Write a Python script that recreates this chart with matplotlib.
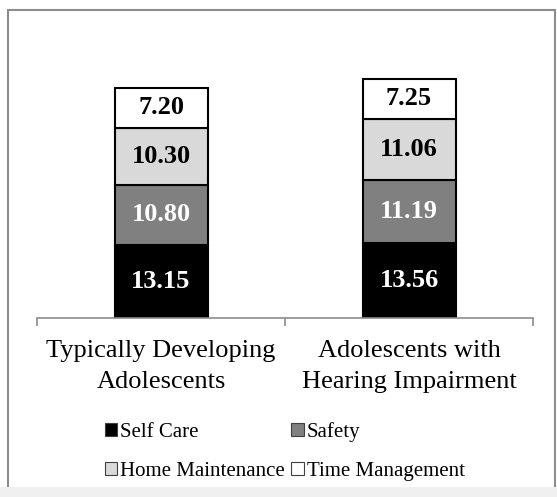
import numpy as np
import matplotlib.pyplot as plt
from matplotlib.patches import Rectangle, Patch

plt.rcParams['font.family'] = ['Liberation Serif', 'DejaVu Serif']

# Data
groups = ['Typically Developing\nAdolescents', 'Adolescents with\nHearing Impairment']
series = ['Self Care', 'Safety', 'Home Maintenance', 'Time Management']
self_care = [13.15, 13.56]
safety = [10.80, 11.19]
home_maint = [10.30, 11.06]
time_mgmt = [7.20, 7.25]

colors = ['#000000', '#808080', '#d9d9d9', '#ffffff']
text_colors = ['white', 'white', 'black', 'black']

fig = plt.figure(figsize=(5.57, 4.97), dpi=100)

# outer frame like the original chart box
fig.patches.append(Rectangle((8/557, 7/497), 547/557, 480/497, transform=fig.transFigure,
                             facecolor='white', edgecolor='#8c8c8c', linewidth=1.5, zorder=-5))
fig.patches.append(Rectangle((0, 0), 1, 10/497, transform=fig.transFigure,
                             facecolor='#f0f0f0', edgecolor='none', zorder=-4))

ax = fig.add_axes([37/557, 179/497, 496/557, 278/497])
ax.patch.set_alpha(0)

x = np.arange(len(groups))
width = 0.375
bottom = np.zeros(len(groups))
for vals, name, c, tc in zip([self_care, safety, home_maint, time_mgmt], series, colors, text_colors):
    bars = ax.bar(x, vals, width, bottom=bottom, color=c, edgecolor='black', linewidth=1.5, label=name)
    for b, v, y0 in zip(bars, vals, bottom):
        ax.text(b.get_x() + b.get_width()/2, y0 + v/2, f'{v:.2f}', ha='center', va='center',
                color=tc, fontsize=19, fontweight='bold')
    bottom += np.array(vals)

ax.set_xlim(-0.5, 1.5)
ax.set_ylim(0, 50)
ax.set_yticks([])
for s in ['top', 'right', 'left']:
    ax.spines[s].set_visible(False)
ax.spines['bottom'].set_color('#8c8c8c')
ax.spines['bottom'].set_linewidth(1.2)

ax.set_xticks(x)
ax.set_xticklabels(groups, fontsize=19)
for lbl in ax.get_xticklabels():
    lbl.set_linespacing(1.5)
ax.tick_params(axis='x', which='major', length=0, pad=16)
ax.set_xticks([-0.5, 0.5, 1.5], minor=True)
ax.tick_params(axis='x', which='minor', length=6, color='#8c8c8c', width=1.2)

# legend filled column-wise, so reorder to get row-major layout
handles = [Patch(facecolor=c, edgecolor='#404040', linewidth=0.8) for c in colors]
order = [0, 2, 1, 3]
fig.legend([handles[i] for i in order], [series[i] for i in order],
           loc='center', bbox_to_anchor=(0.511, 0.092), ncol=2, frameon=False,
           fontsize=15, handlelength=0.6, handleheight=0.6, handletextpad=0.15,
           columnspacing=0.3, labelspacing=0.95)

fig.savefig('out.png', dpi=100)
